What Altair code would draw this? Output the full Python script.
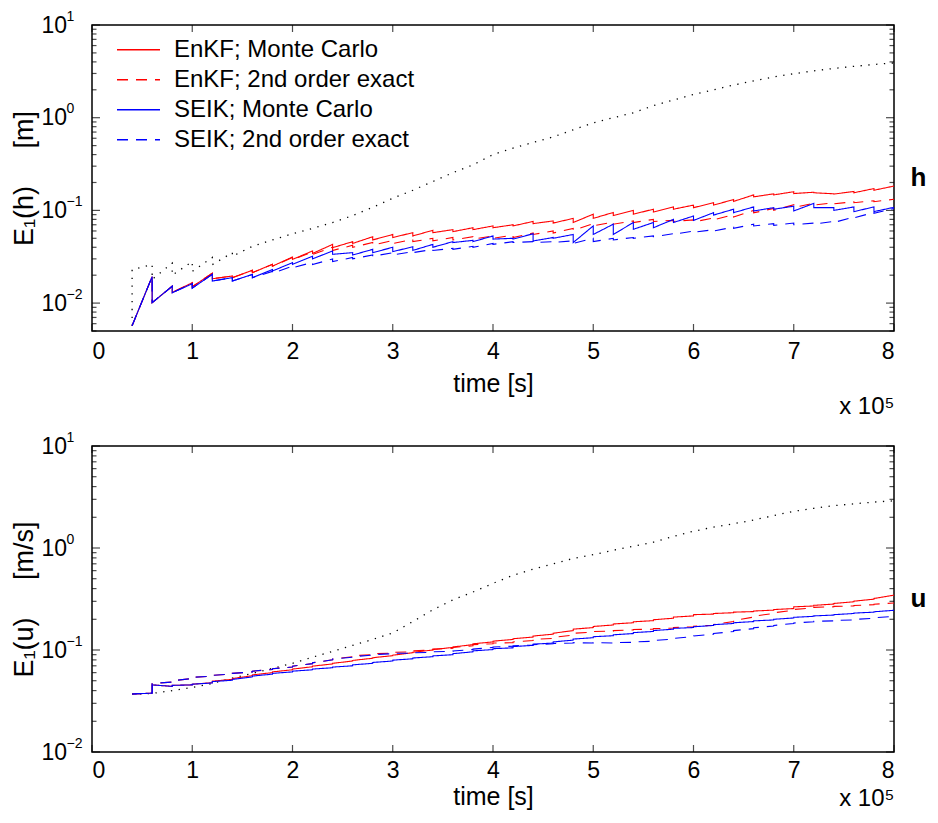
import altair as alt
import pandas as pd

# ---------------- data ----------------
T_START = 0.4
T_AN = [0.6, 0.8, 1.0, 1.2, 1.4, 1.6, 1.8, 2.0, 2.2, 2.4, 2.6, 2.8, 3.0, 3.2, 3.4,
        3.6, 3.8, 4.0, 4.2, 4.4, 4.6, 4.8, 5.0, 5.2, 5.4, 5.6, 5.8, 6.0, 6.2, 6.4,
        6.6, 6.8, 7.0, 7.2, 7.4, 7.6, 7.8, 8.0]

SERIES = ["EnKF; Monte Carlo", "EnKF; 2nd order exact", "SEIK; Monte Carlo", "SEIK; 2nd order exact"]
COLORS = ["#ff0000", "#ff0000", "#0000ff", "#0000ff"]
DASHES = [[1, 0], [11, 8], [1, 0], [11, 8]]

# h panel
H_START = 0.0057
H_EM_PRE = [0.0193, 0.0152, 0.0166, 0.0210, 0.0196, 0.0226, 0.0262, 0.0314, 0.0365, 0.0430, 0.0460, 0.0520, 0.0550,
            0.0575, 0.0610, 0.0620, 0.0650, 0.0680, 0.0700, 0.0760, 0.0770, 0.0820, 0.0910, 0.0950, 0.1000, 0.1030,
            0.1090, 0.1140, 0.1210, 0.1310, 0.1470, 0.1510, 0.1590, 0.1570, 0.1510, 0.1600, 0.1720, 0.1830]
H_EM_POST = [0.0101, 0.0130, 0.0150, 0.0183, 0.0188, 0.0213, 0.0250, 0.0296, 0.0343, 0.0396, 0.0440, 0.0480, 0.0510,
             0.0530, 0.0575, 0.0590, 0.0620, 0.0650, 0.0680, 0.0720, 0.0730, 0.0740, 0.0820, 0.0880, 0.0910, 0.0960,
             0.1030, 0.1070, 0.1140, 0.1250, 0.1400, 0.1470, 0.1520, 0.1550, 0.1500, 0.1550, 0.1650, 0.1830]
H_E2_PRE = [0.0193, 0.0152, 0.0166, 0.0210, 0.0196, 0.0226, 0.0262, 0.0310, 0.0355, 0.0400, 0.0420, 0.0450, 0.0475,
            0.0485, 0.0500, 0.0510, 0.0520, 0.0530, 0.0540, 0.0570, 0.0600, 0.0640, 0.0720, 0.0750, 0.0770, 0.0800,
            0.0780, 0.0790, 0.0830, 0.0900, 0.1000, 0.1050, 0.1150, 0.1190, 0.1210, 0.1240, 0.1270, 0.1320]
H_E2_POST = [0.0101, 0.0130, 0.0150, 0.0183, 0.0188, 0.0213, 0.0250, 0.0295, 0.0335, 0.0370, 0.0400, 0.0420, 0.0440,
             0.0460, 0.0470, 0.0480, 0.0490, 0.0500, 0.0510, 0.0550, 0.0570, 0.0610, 0.0680, 0.0710, 0.0740, 0.0760,
             0.0760, 0.0750, 0.0790, 0.0850, 0.0940, 0.1000, 0.1080, 0.1140, 0.1180, 0.1210, 0.1240, 0.1320]
H_SM_PRE = [0.0193, 0.0152, 0.0162, 0.0204, 0.0188, 0.0204, 0.0230, 0.0273, 0.0320, 0.0365, 0.0350, 0.0380, 0.0400,
            0.0405, 0.0430, 0.0460, 0.0475, 0.0530, 0.0500, 0.0560, 0.0510, 0.0550, 0.0680, 0.0710, 0.0740, 0.0740,
            0.0800, 0.0870, 0.0945, 0.1030, 0.1090, 0.1070, 0.1110, 0.1190, 0.1070, 0.1090, 0.1090, 0.1080]
H_SM_POST = [0.0101, 0.0129, 0.0145, 0.0173, 0.0173, 0.0188, 0.0222, 0.0262, 0.0300, 0.0336, 0.0330, 0.0350, 0.0359,
             0.0370, 0.0400, 0.0450, 0.0460, 0.0490, 0.0490, 0.0468, 0.0500, 0.0450, 0.0550, 0.0550, 0.0625, 0.0650,
             0.0740, 0.0780, 0.0890, 0.0945, 0.0986, 0.1030, 0.0986, 0.1070, 0.1000, 0.0970, 0.0970, 0.1080]
H_S2_PRE = [0.0193, 0.0152, 0.0162, 0.0204, 0.0188, 0.0204, 0.0220, 0.0250, 0.0275, 0.0300, 0.0310, 0.0330, 0.0350,
            0.0360, 0.0380, 0.0390, 0.0410, 0.0440, 0.0460, 0.0460, 0.0460, 0.0470, 0.0500, 0.0500, 0.0510, 0.0530,
            0.0560, 0.0600, 0.0620, 0.0660, 0.0710, 0.0720, 0.0730, 0.0730, 0.0760, 0.0850, 0.0950, 0.1050]
H_S2_POST = [0.0101, 0.0129, 0.0145, 0.0173, 0.0173, 0.0188, 0.0210, 0.0240, 0.0260, 0.0280, 0.0300, 0.0320, 0.0330,
             0.0350, 0.0370, 0.0380, 0.0400, 0.0430, 0.0450, 0.0450, 0.0450, 0.0440, 0.0460, 0.0480, 0.0500, 0.0520,
             0.0550, 0.0580, 0.0600, 0.0640, 0.0680, 0.0690, 0.0700, 0.0710, 0.0740, 0.0830, 0.0930, 0.1050]
DOT_H_T = [0.4, 0.4, 0.6, 0.6, 0.8, 0.8, 1.0, 1.0, 1.2, 1.2, 1.4, 1.4, 1.6, 1.8, 2.0, 2.2, 2.4, 2.6, 2.8, 3.0,
           3.2, 3.4, 3.6, 3.8, 4.0, 4.2, 4.4, 4.6, 4.8, 5.0, 5.2, 5.4, 5.6, 5.8, 6.0, 6.2, 6.4, 6.6, 6.8, 7.0,
           7.2, 7.4, 7.6, 7.8, 8.0]
DOT_H_V = [0.0057, 0.023, 0.026, 0.018, 0.027, 0.020, 0.028, 0.022, 0.031, 0.026, 0.035, 0.032, 0.041, 0.048,
           0.056, 0.064, 0.074, 0.088, 0.108, 0.135, 0.165, 0.205, 0.255, 0.310, 0.400, 0.470, 0.540, 0.620,
           0.740, 0.880, 1.00, 1.13, 1.35, 1.55, 1.78, 2.00, 2.25, 2.50, 2.75, 2.98, 3.20, 3.40, 3.58, 3.75, 3.90]

# u panel
U_START = 0.037
U_EM_PRE = [0.0378, 0.0440, 0.0455, 0.0478, 0.0515, 0.0560, 0.0600, 0.0640, 0.0685, 0.0730, 0.0780, 0.0830, 0.0880,
            0.0940, 0.1000, 0.1060, 0.1130, 0.1200, 0.1270, 0.1340, 0.1430, 0.1550, 0.1660, 0.1760, 0.1850, 0.1940,
            0.2050, 0.2160, 0.2250, 0.2320, 0.2380, 0.2460, 0.2550, 0.2700, 0.2820, 0.2970, 0.3150, 0.3450]
U_EM_POST = [0.0455, 0.0450, 0.0462, 0.0495, 0.0525, 0.0570, 0.0610, 0.0650, 0.0695, 0.0740, 0.0790, 0.0840, 0.0890,
             0.0950, 0.1010, 0.1070, 0.1150, 0.1220, 0.1290, 0.1370, 0.1460, 0.1600, 0.1700, 0.1800, 0.1890, 0.1980,
             0.2100, 0.2220, 0.2280, 0.2350, 0.2410, 0.2490, 0.2650, 0.2740, 0.2860, 0.3010, 0.3200, 0.3450]
U_E2_PRE = [0.0378, 0.0485, 0.0525, 0.0555, 0.0580, 0.0610, 0.0645, 0.0680, 0.0735, 0.0800, 0.0860, 0.0900, 0.0930,
            0.0960, 0.1000, 0.1040, 0.1100, 0.1150, 0.1180, 0.1240, 0.1300, 0.1400, 0.1500, 0.1530, 0.1570, 0.1600,
            0.1640, 0.1690, 0.1750, 0.1900, 0.2100, 0.2280, 0.2450, 0.2580, 0.2650, 0.2700, 0.2780, 0.2890]
U_E2_POST = [0.0470, 0.0500, 0.0540, 0.0565, 0.0590, 0.0620, 0.0655, 0.0695, 0.0750, 0.0815, 0.0880, 0.0920, 0.0950,
             0.0980, 0.1020, 0.1060, 0.1130, 0.1170, 0.1200, 0.1270, 0.1330, 0.1460, 0.1520, 0.1550, 0.1590, 0.1620,
             0.1660, 0.1710, 0.1780, 0.1950, 0.2150, 0.2320, 0.2500, 0.2620, 0.2680, 0.2730, 0.2810, 0.2890]
U_SM_PRE = [0.0378, 0.0440, 0.0455, 0.0475, 0.0505, 0.0545, 0.0580, 0.0610, 0.0640, 0.0670, 0.0700, 0.0740, 0.0780,
            0.0820, 0.0860, 0.0900, 0.0960, 0.1010, 0.1050, 0.1110, 0.1170, 0.1250, 0.1320, 0.1380, 0.1450, 0.1520,
            0.1600, 0.1660, 0.1740, 0.1820, 0.1900, 0.1970, 0.2060, 0.2140, 0.2200, 0.2280, 0.2350, 0.2450]
U_SM_POST = [0.0455, 0.0450, 0.0462, 0.0490, 0.0515, 0.0555, 0.0590, 0.0620, 0.0650, 0.0680, 0.0715, 0.0755, 0.0795,
             0.0835, 0.0875, 0.0920, 0.0980, 0.1030, 0.1080, 0.1140, 0.1200, 0.1280, 0.1350, 0.1410, 0.1480, 0.1550,
             0.1630, 0.1690, 0.1770, 0.1850, 0.1930, 0.2000, 0.2090, 0.2160, 0.2220, 0.2300, 0.2370, 0.2450]
U_S2_PRE = [0.0378, 0.0485, 0.0525, 0.0555, 0.0580, 0.0610, 0.0645, 0.0680, 0.0735, 0.0800, 0.0850, 0.0890, 0.0920,
            0.0930, 0.0950, 0.0970, 0.1010, 0.1060, 0.1090, 0.1120, 0.1150, 0.1170, 0.1170, 0.1170, 0.1190, 0.1220,
            0.1280, 0.1350, 0.1430, 0.1520, 0.1620, 0.1720, 0.1820, 0.1890, 0.1930, 0.1970, 0.2050, 0.2140]
U_S2_POST = [0.0470, 0.0500, 0.0540, 0.0565, 0.0590, 0.0620, 0.0655, 0.0695, 0.0750, 0.0815, 0.0860, 0.0900, 0.0930,
             0.0940, 0.0960, 0.0980, 0.1020, 0.1070, 0.1100, 0.1130, 0.1160, 0.1180, 0.1180, 0.1180, 0.1200, 0.1240,
             0.1300, 0.1370, 0.1450, 0.1550, 0.1650, 0.1740, 0.1840, 0.1910, 0.1950, 0.1990, 0.2070, 0.2140]
DOT_U_T = [0.4, 0.6, 0.8, 1.0, 1.2, 1.4, 1.6, 1.8, 2.0, 2.2, 2.4, 2.6, 2.8, 3.0, 3.2, 3.4, 3.6, 3.8, 4.0, 4.2,
           4.4, 4.6, 4.8, 5.0, 5.2, 5.4, 5.6, 5.8, 6.0, 6.2, 6.4, 6.6, 6.8, 7.0, 7.2, 7.4, 7.6, 7.8, 8.0]
DOT_U_V = [0.037, 0.0375, 0.040, 0.043, 0.047, 0.053, 0.059, 0.066, 0.074, 0.085, 0.097, 0.111, 0.127, 0.147,
           0.190, 0.248, 0.310, 0.370, 0.450, 0.540, 0.620, 0.700, 0.790, 0.860, 0.950, 1.04, 1.14, 1.30, 1.46,
           1.60, 1.73, 1.88, 2.08, 2.29, 2.45, 2.60, 2.71, 2.82, 2.90]

X_TICKS = [0, 1, 2, 3, 4, 5, 6, 7, 8]
H_DOMAIN = [0.005, 10]
U_DOMAIN = [0.01, 10]
DECADES = [0.01, 0.1, 1, 10]

# ---------------- helpers ----------------
W, H = 802, 306
FONT = "Liberation Sans"
NB = "\u00a0"


def saw(name, start, pre, post):
    ts, vs = [T_START], [start]
    for t, a, b in zip(T_AN, pre, post):
        ts += [t, t]
        vs += [a, b]
    return pd.DataFrame({"series": name, "t": ts, "v": vs, "i": list(range(len(ts)))})


def minor_ticks(lo, hi):
    out = []
    for e in range(-3, 2):
        for m in range(2, 10):
            v = round(m * 10 ** e, 6)
            if lo - 1e-9 <= v <= hi + 1e-9:
                out.append(v)
    return out


EXP_EXPR = ("datum.value > 5 ? '1' : datum.value > 0.5 ? '0' : "
            "datum.value > 0.05 ? '\u22121' : '\u22122'")


def panel(df_lines, df_dot, ydomain, ytitle, label, with_legend, lab_pad, tit_pad, mult_pad):
    xs = alt.Scale(domain=[0, 8], nice=False, zero=False)
    ys = alt.Scale(type="log", domain=ydomain, nice=False)

    if with_legend:
        leg = alt.Legend(title=None, orient="none", legendX=24, legendY=10,
                         symbolType="stroke", symbolSize=1849, symbolStrokeWidth=1.3,
                         labelFontSize=24, labelFont=FONT, labelOffset=13, rowPadding=0,
                         clipHeight=29.5, padding=0, labelLimit=400, labelColor="black")
    else:
        leg = None

    ax_x_main = alt.Axis(orient="bottom", values=X_TICKS, format="d", ticks=False, domain=False,
                         labelPadding=lab_pad, title="time [s]", titlePadding=tit_pad, titleFontSize=25)
    ax_x_mult = alt.Axis(orient="bottom", labels=False, ticks=False, domain=False,
                         title="x 10\u2075", titleAnchor="end", titleAlign="right",
                         titlePadding=mult_pad, titleFontSize=24)
    ax_y_base = alt.Axis(orient="left", values=DECADES, labelExpr="'10'", labelAlign="left",
                         labelPadding=51, ticks=False, domain=False, title=ytitle, titlePadding=3,
                         titleFontSize=27)
    ax_y_exp = alt.Axis(orient="left", values=DECADES, labelExpr=EXP_EXPR, labelAlign="left",
                        labelPadding=26, labelFontSize=14, labelOffset=-9, ticks=False, domain=False,
                        title=None)

    # inward pointing frame ticks (MATLAB box style), drawn under the data
    dmaj = pd.DataFrame({"v": DECADES})
    dmin = pd.DataFrame({"v": minor_ticks(ydomain[0], ydomain[1])})
    dx = pd.DataFrame({"t": X_TICKS})
    tick_layers = []
    for d, ln in ((dmaj, 8), (dmin, 4.5)):
        for xc in (ln / 2, W - ln / 2):
            tick_layers.append(
                alt.Chart(d).mark_tick(orient="horizontal", size=ln, thickness=1.2, color="black").encode(
                    y=alt.Y("v:Q", scale=ys, axis=None), x=alt.value(xc)))
    for yc in (H - 3.5, 3.5):
        tick_layers.append(
            alt.Chart(dx).mark_tick(orient="vertical", size=7, thickness=1.2, color="black").encode(
                x=alt.X("t:Q", scale=xs, axis=None), y=alt.value(yc)))

    dots = alt.Chart(df_dot).mark_line(color="black", strokeDash=[1.3, 6.5], strokeWidth=1.3).encode(
        x=alt.X("t:Q", scale=xs, axis=ax_x_mult),
        y=alt.Y("v:Q", scale=ys, axis=ax_y_exp),
        order=alt.Order("i:Q"),
    )
    lines = alt.Chart(df_lines).mark_line(strokeWidth=1.1).encode(
        x=alt.X("t:Q", scale=xs, axis=ax_x_main),
        y=alt.Y("v:Q", scale=ys, axis=ax_y_base),
        color=alt.Color("series:N", scale=alt.Scale(domain=SERIES, range=COLORS), legend=leg),
        strokeDash=alt.StrokeDash("series:N", scale=alt.Scale(domain=SERIES, range=DASHES), legend=leg),
        order=alt.Order("i:Q"),
    )

    return alt.layer(*tick_layers, dots, lines).resolve_axis(
        x="independent", y="independent"
    ).properties(
        width=W, height=H,
        title=alt.TitleParams(text=label, orient="right", angle=0, frame="group", anchor="middle",
                              align="left", baseline="middle", offset=-2, fontSize=26,
                              fontWeight="bold", font=FONT, color="black"),
    )


df_h = pd.concat([
    saw(SERIES[0], H_START, H_EM_PRE, H_EM_POST),
    saw(SERIES[1], H_START, H_E2_PRE, H_E2_POST),
    saw(SERIES[2], H_START, H_SM_PRE, H_SM_POST),
    saw(SERIES[3], H_START, H_S2_PRE, H_S2_POST),
], ignore_index=True)
df_hd = pd.DataFrame({"t": DOT_H_T, "v": DOT_H_V, "i": list(range(len(DOT_H_T)))})

df_u = pd.concat([
    saw(SERIES[0], U_START, U_EM_PRE, U_EM_POST),
    saw(SERIES[1], U_START, U_E2_PRE, U_E2_POST),
    saw(SERIES[2], U_START, U_SM_PRE, U_SM_POST),
    saw(SERIES[3], U_START, U_S2_PRE, U_S2_POST),
], ignore_index=True)
df_ud = pd.DataFrame({"t": DOT_U_T, "v": DOT_U_V, "i": list(range(len(DOT_U_T)))})

top = panel(df_h, df_hd, H_DOMAIN, "E\u2081(h)" + NB * 5 + "[m]", "h", True, 9, 8, 63)
bottom = panel(df_u, df_ud, U_DOMAIN, "E\u2081(u)" + NB * 5 + "[m/s]", "u", False, 7, 2, 34)

chart = alt.vconcat(top, bottom, spacing=10).resolve_scale(
    x="independent", y="independent", color="independent", strokeDash="independent"
).properties(
    padding={"left": 1, "top": 0, "right": 0, "bottom": 0}
).configure_view(
    stroke="black", strokeWidth=1.5
).configure_axis(
    grid=False, labelFont=FONT, titleFont=FONT, labelFontSize=23, titleFontSize=24,
    titleFontWeight="normal", labelColor="black", titleColor="black",
    tickColor="black", domainColor="black"
).configure_title(font=FONT)

chart.save("out.html", embed_options={"renderer": "svg", "actions": False})
